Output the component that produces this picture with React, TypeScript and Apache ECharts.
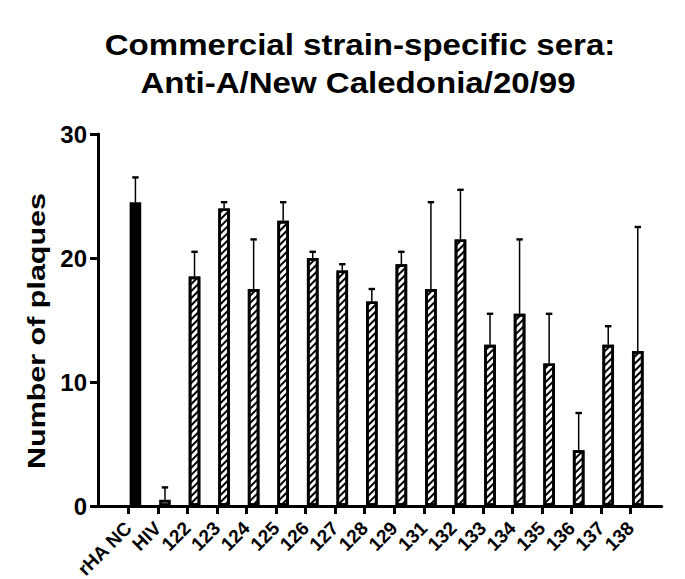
import React, { useEffect, useRef } from "react";
import * as echarts from "echarts";

const categories = ["rHA NC", "HIV", "122", "123", "124", "125", "126", "127", "128", "129", "131", "132", "133", "134", "135", "136", "137", "138"];
const means = [24.5, 0.5, 18.5, 24, 17.5, 23, 20, 19, 16.5, 19.5, 17.5, 21.5, 13, 15.5, 11.5, 4.5, 13, 12.5];
const errors = [2, 1, 2, 0.5, 4, 1.5, 0.5, 0.5, 1, 1, 7, 4, 2.5, 6, 4, 3, 1.5, 10];
const yTicks = { min: 0, max: 30, interval: 10 };
const titleLines = ["Commercial strain-specific sera:", "Anti-A/New Caledonia/20/99"];
const yName = "Number of plaques";

const FONT = 'Arial, "Liberation Sans", sans-serif';
const BAR_W = 11.6;
const BORDER = 2.7;
const GAP_PX = 2.7;

export default function App() {
  const ref = useRef<HTMLDivElement>(null);
  useEffect(() => {
    if (!ref.current) return;
    const chart = echarts.init(ref.current, null, { renderer: "svg" });
    const hatch = {
      symbol: "rect",
      symbolSize: 1,
      dashArrayX: [1, 0],
      dashArrayY: [1.3, 2.9],
      rotation: -Math.PI / 4,
      color: "#000",
      backgroundColor: "#fff",
    };
    const barData = means.map((v, i) => {
      if (i === 0) return { value: v, itemStyle: { color: "#000" } };
      if (i === 1) return { value: v, itemStyle: { color: "#8a8a8a" } };
      return { value: v, itemStyle: { color: "#fff", decal: hatch } };
    });
    const offset = GAP_PX / 2 + BAR_W / 2;
    chart.setOption({
      animation: false,
      backgroundColor: "#fff",
      graphic: [
        {
          type: "text",
          x: 360,
          y: 45,
          scaleX: 1.14,
          style: { text: titleLines[0], font: `bold 29px ${FONT}`, fill: "#000", textAlign: "center", align: "center", textVerticalAlign: "middle", verticalAlign: "middle" },
        },
        {
          type: "text",
          x: 358,
          y: 83,
          scaleX: 1.14,
          style: { text: titleLines[1], font: `bold 29px ${FONT}`, fill: "#000", textAlign: "center", align: "center", textVerticalAlign: "middle", verticalAlign: "middle" },
        },
        {
          type: "text",
          x: 37,
          y: 331,
          rotation: Math.PI / 2,
          scaleX: 1.27,
          style: { text: yName, font: `bold 24px ${FONT}`, fill: "#000", textAlign: "center", align: "center", textVerticalAlign: "middle", verticalAlign: "middle" },
        },
      ],
      grid: [
        { left: 98, top: 134, width: 563.7, height: 372, containLabel: false, outerBoundsMode: "none" },
        { left: 113.5, top: 134, width: 531.9, height: 372, containLabel: false, outerBoundsMode: "none" },
      ],
      xAxis: [
        {
          type: "value",
          gridIndex: 0,
          min: 0,
          max: 1,
          axisLine: { show: true, lineStyle: { color: "#000", width: 3 } },
          axisTick: { show: false },
          axisLabel: { show: false },
          splitLine: { show: false },
        },
        {
          type: "category",
          gridIndex: 1,
          data: categories,
          boundaryGap: true,
          axisLine: { show: false },
          axisTick: { show: true, alignWithLabel: true, length: 8, lineStyle: { color: "#000", width: 3 } },
          axisLabel: { rotate: 45, fontSize: 19, fontWeight: "bold", fontFamily: FONT, color: "#000", margin: 19, interval: 0 },
          splitLine: { show: false },
        },
      ],
      yAxis: [
        {
          type: "value",
          gridIndex: 0,
          min: yTicks.min,
          max: yTicks.max,
          interval: yTicks.interval,
          axisLine: { show: true, lineStyle: { color: "#000", width: 3 } },
          axisTick: { show: true, length: 8, lineStyle: { color: "#000", width: 3 } },
          axisLabel: { fontSize: 24, fontWeight: "bold", fontFamily: FONT, color: "#000", margin: 11 },
          splitLine: { show: false },
        },
        {
          type: "value",
          gridIndex: 1,
          min: yTicks.min,
          max: yTicks.max,
          show: false,
          splitLine: { show: false },
        },
      ],
      series: [
        {
          type: "bar",
          xAxisIndex: 1,
          yAxisIndex: 1,
          data: categories.map(() => "-"),
          barWidth: BAR_W,
          barGap: `${(GAP_PX / BAR_W) * 100}%`,
          silent: true,
        },
        {
          type: "bar",
          xAxisIndex: 1,
          yAxisIndex: 1,
          data: barData,
          barWidth: BAR_W,
          barGap: `${(GAP_PX / BAR_W) * 100}%`,
          itemStyle: { borderColor: "#000", borderWidth: BORDER },
          z: 3,
        },
        {
          type: "custom",
          xAxisIndex: 1,
          yAxisIndex: 1,
          z: 2,
          data: means.map((m, i) => [i, m, m + errors[i]]),
          renderItem: (params: any, api: any) => {
            const i = api.value(0);
            const base = api.coord([i, api.value(1)]);
            const top = api.coord([i, api.value(2)]);
            const x = base[0] + offset;
            return {
              type: "group",
              children: [
                { type: "line", shape: { x1: x, y1: base[1], x2: x, y2: top[1] }, style: { stroke: "#000", lineWidth: 1.5 } },
                { type: "line", shape: { x1: x - 3.2, y1: top[1], x2: x + 3.2, y2: top[1] }, style: { stroke: "#000", lineWidth: 2.4 } },
              ],
            };
          },
        },
      ],
    });
    return () => chart.dispose();
  }, []);
  return <div ref={ref} style={{ position: "fixed", left: 0, top: 0, width: 685, height: 579, background: "#fff" }} />;
}
